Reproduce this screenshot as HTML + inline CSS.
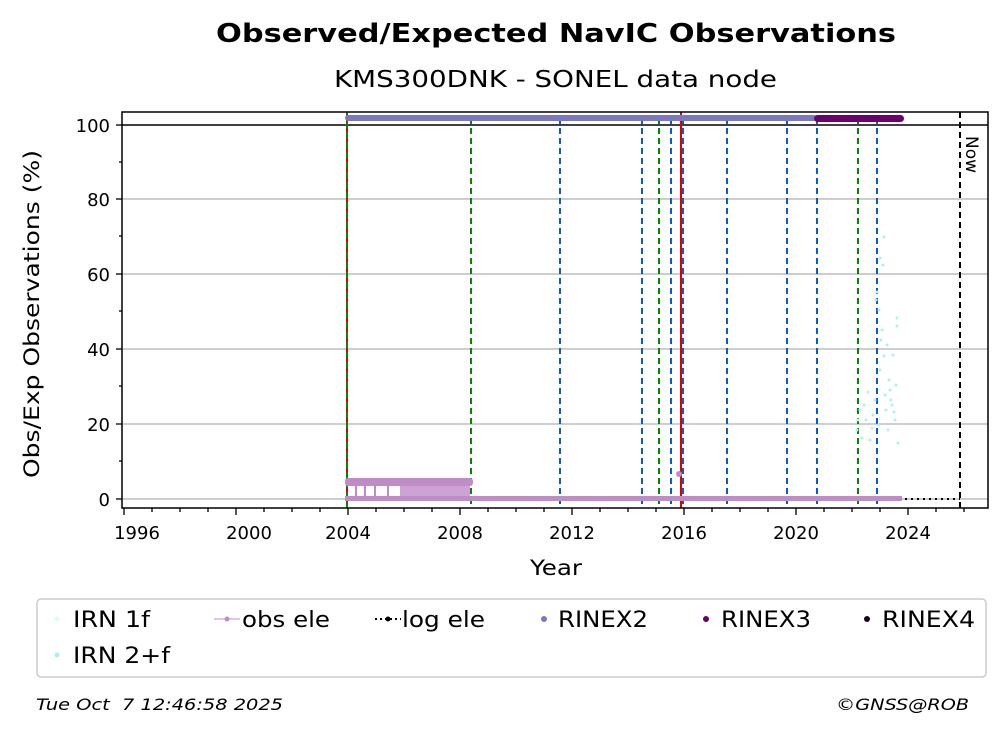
<!DOCTYPE html><html><head><style>body{margin:0;background:#fff}svg{display:block}text{font-family:"DejaVu Sans","Liberation Sans",sans-serif}</style></head><body>
<svg width="1008" height="734" xmlns="http://www.w3.org/2000/svg">
<text x="216" y="42" font-size="26" font-weight="bold" textLength="680" lengthAdjust="spacingAndGlyphs">Observed/Expected NavIC Observations</text>
<text x="334" y="87" font-size="23" textLength="443" lengthAdjust="spacingAndGlyphs">KMS300DNK - SONEL data node</text>
<g stroke="#b0b0b0" stroke-width="1.2">
<line x1="122" x2="988" y1="499" y2="499"/><line x1="122" x2="988" y1="424" y2="424"/><line x1="122" x2="988" y1="349" y2="349"/><line x1="122" x2="988" y1="274" y2="274"/><line x1="122" x2="988" y1="199" y2="199"/></g>
<line x1="122" x2="988" y1="125" y2="125" stroke="#000" stroke-width="1.5"/>
<g stroke-width="2" stroke-dasharray="6,4">
<line x1="347" x2="347" y1="112" y2="508" stroke="#d00" stroke-dasharray="none"/>
<line x1="347" x2="347" y1="112" y2="508" stroke="#080"/>
<line x1="471" x2="471" y1="118" y2="508" stroke="#080"/>
<line x1="560" x2="560" y1="118" y2="508" stroke="#0a5cc8"/>
<line x1="642" x2="642" y1="118" y2="508" stroke="#0a5cc8"/>
<line x1="659" x2="659" y1="118" y2="508" stroke="#080"/>
<line x1="671" x2="671" y1="118" y2="508" stroke="#0a5cc8"/>
<line x1="681" x2="681" y1="112" y2="508" stroke="#d00" stroke-dasharray="none"/>
<line x1="683" x2="683" y1="118" y2="508" stroke="#0a5cc8"/>
<line x1="727" x2="727" y1="118" y2="508" stroke="#0a5cc8"/>
<line x1="787" x2="787" y1="118" y2="508" stroke="#0a5cc8"/>
<line x1="817" x2="817" y1="118" y2="508" stroke="#0a5cc8"/>
<line x1="858" x2="858" y1="118" y2="508" stroke="#080"/>
<line x1="877" x2="877" y1="118" y2="508" stroke="#0a5cc8"/>
<line x1="960" x2="960" y1="112" y2="508" stroke="#000"/>
</g>
<text transform="translate(966,136) rotate(90)" font-size="17">Now</text>
<line x1="347" x2="960" y1="499" y2="499" stroke="#000" stroke-width="2" stroke-dasharray="2,4"/>
<rect x="345" y="478" width="128" height="8" rx="3" fill="#c08cc8"/>
<rect x="400" y="482" width="70" height="14" fill="#c08cc8" opacity="0.8"/>
<g stroke="#c08cc8" stroke-width="2"><line x1="365" x2="365" y1="482" y2="498"/><line x1="375" x2="375" y1="482" y2="498"/><line x1="388" x2="388" y1="482" y2="498"/><line x1="356" x2="356" y1="482" y2="498"/></g>
<rect x="345" y="496" width="557" height="5" fill="#c08cc8"/>
<circle cx="679" cy="474" r="3" fill="#c08cc8"/>
<rect x="345" y="115" width="472" height="6" rx="3" fill="#7b78c0"/>
<rect x="814" y="115" width="90" height="7" rx="3.5" fill="#6a006a"/>
<g fill="#b0f0f0">
<circle cx="884" cy="237" r="1.5"/><circle cx="880" cy="258" r="1.5"/><circle cx="883" cy="265" r="1.5"/><circle cx="877" cy="292" r="1.5"/><circle cx="897" cy="318" r="1.5"/><circle cx="897" cy="326" r="1.5"/><circle cx="881" cy="340" r="1.5"/><circle cx="884" cy="356" r="1.5"/><circle cx="893" cy="355" r="1.5"/><circle cx="868" cy="392" r="1.5"/><circle cx="889" cy="380" r="1.5"/><circle cx="860" cy="410" r="1.5"/><circle cx="866" cy="420" r="1.5"/><circle cx="873" cy="415" r="1.5"/><circle cx="891" cy="400" r="1.5"/><circle cx="857" cy="430" r="1.5"/><circle cx="862" cy="438" r="1.5"/><circle cx="878" cy="425" r="1.5"/><circle cx="886" cy="410" r="1.5"/><circle cx="895" cy="420" r="1.5"/><circle cx="898" cy="443" r="1.5"/><circle cx="870" cy="440" r="1.5"/><circle cx="885" cy="395" r="1.5"/><circle cx="880" cy="370" r="1.5"/><circle cx="892" cy="405" r="1.5"/><circle cx="875" cy="400" r="1.5"/><circle cx="864" cy="405" r="1.5"/><circle cx="888" cy="430" r="1.5"/><circle cx="896" cy="385" r="1.5"/><circle cx="879" cy="310" r="1.5"/><circle cx="882" cy="330" r="1.5"/><circle cx="876" cy="300" r="1.5"/><circle cx="887" cy="345" r="1.5"/><circle cx="890" cy="390" r="1.5"/><circle cx="872" cy="428" r="1.5"/><circle cx="858" cy="420" r="1.5"/><circle cx="894" cy="412" r="1.5"/>
</g>
<rect x="122" y="112" width="866" height="396" fill="none" stroke="#000" stroke-width="1.5"/>
<g stroke="#000" stroke-width="1.3">
<line x1="116" x2="122" y1="499" y2="499"/><line x1="116" x2="122" y1="424" y2="424"/><line x1="116" x2="122" y1="349" y2="349"/><line x1="116" x2="122" y1="274" y2="274"/><line x1="116" x2="122" y1="199" y2="199"/><line x1="116" x2="122" y1="125" y2="125"/>
<line x1="119" x2="122" y1="461" y2="461"/><line x1="119" x2="122" y1="386" y2="386"/><line x1="119" x2="122" y1="311" y2="311"/><line x1="119" x2="122" y1="236" y2="236"/><line x1="119" x2="122" y1="162" y2="162"/>
</g>
<g font-size="18" text-anchor="end"><text x="110" y="506">0</text><text x="110" y="431">20</text><text x="110" y="356">40</text><text x="110" y="281">60</text><text x="110" y="206">80</text><text x="110" y="132">100</text></g>
<g stroke="#000" stroke-width="1.3">
<path d="M124 508v7M236 508v7M348 508v7M460 508v7M572 508v7M684 508v7M796 508v7M908 508v7"/>
<path d="M152 508v4M180 508v4M208 508v4M264 508v4M292 508v4M320 508v4M376 508v4M404 508v4M432 508v4M488 508v4M516 508v4M544 508v4M600 508v4M628 508v4M656 508v4M712 508v4M740 508v4M768 508v4M824 508v4M852 508v4M880 508v4M936 508v4M964 508v4"/>
</g>
<g font-size="18" text-anchor="middle"><text x="137" y="539">1996</text><text x="249" y="539">2000</text><text x="348" y="539">2004</text><text x="460" y="539">2008</text><text x="572" y="539">2012</text><text x="684" y="539">2016</text><text x="796" y="539">2020</text><text x="908" y="539">2024</text></g>
<text x="530" y="575" font-size="21" textLength="52" lengthAdjust="spacingAndGlyphs">Year</text>
<text transform="translate(39,478) rotate(-90)" font-size="21" textLength="328" lengthAdjust="spacingAndGlyphs">Obs/Exp Observations (%)</text>
<rect x="37" y="599" width="949" height="78" rx="4" fill="#fff" stroke="#ccc" stroke-width="1.5"/>
<g font-size="22">
<circle cx="57" cy="619" r="2.5" fill="#e0fafa"/><text x="73" y="627" textLength="77" lengthAdjust="spacingAndGlyphs">IRN 1f</text>
<circle cx="57" cy="655" r="2.5" fill="#a8f0f0"/><text x="73" y="663" textLength="97" lengthAdjust="spacingAndGlyphs">IRN 2+f</text>
<line x1="214" x2="240" y1="619" y2="619" stroke="#c08cc8"/><circle cx="227" cy="619" r="2.5" fill="#c08cc8"/><text x="242" y="627" textLength="88" lengthAdjust="spacingAndGlyphs">obs ele</text>
<line x1="375" x2="401" y1="619" y2="619" stroke="#000" stroke-width="2" stroke-dasharray="2,3"/><circle cx="388" cy="619" r="2.5"/><text x="402" y="627" textLength="83" lengthAdjust="spacingAndGlyphs">log ele</text>
<circle cx="544" cy="619" r="3" fill="#7b78c0"/><text x="558" y="627" textLength="90" lengthAdjust="spacingAndGlyphs">RINEX2</text>
<circle cx="706" cy="619" r="3" fill="#6a006a"/><text x="721" y="627" textLength="90" lengthAdjust="spacingAndGlyphs">RINEX3</text>
<circle cx="867" cy="619" r="3" fill="#200020"/><text x="882" y="627" textLength="93" lengthAdjust="spacingAndGlyphs">RINEX4</text>
</g>
<text x="36" y="710" font-size="16" font-style="italic" textLength="247" lengthAdjust="spacingAndGlyphs" xml:space="preserve">Tue Oct  7 12:46:58 2025</text>
<text x="836" y="710" font-size="16" font-style="italic" textLength="133" lengthAdjust="spacingAndGlyphs">©GNSS@ROB</text>
</svg></body></html>
